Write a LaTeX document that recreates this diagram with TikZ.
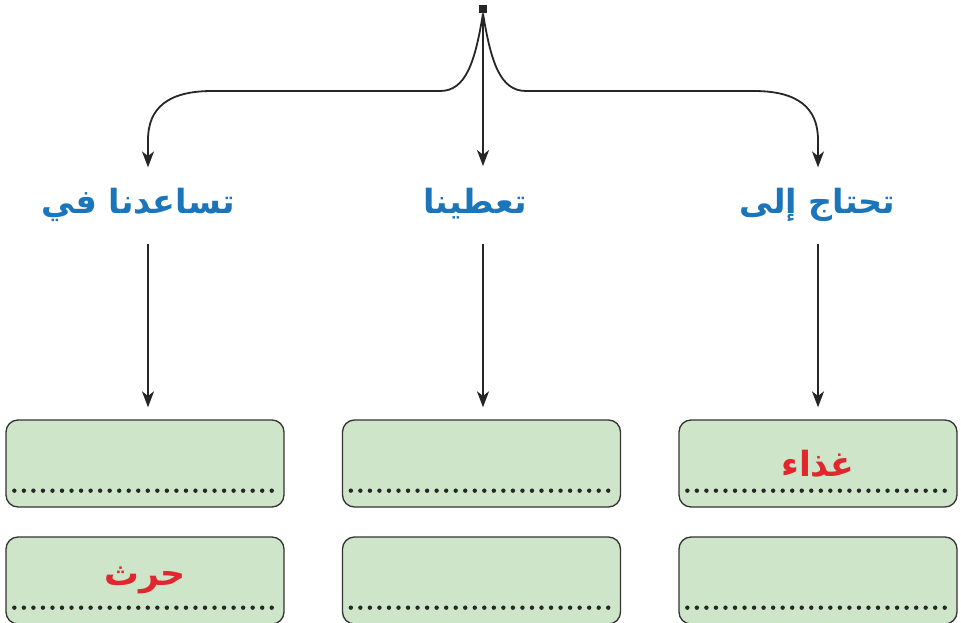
\documentclass[tikz,border=0pt]{standalone}
\usepackage{fontspec}
\usepackage{xcolor}
\usepackage{tikz}
\usetikzlibrary{arrows.meta,calc}
\TeXXeTstate=1
\newfontfamily\arabicfont[Script=Arabic]{DejaVu Sans}
\definecolor{cardgreen}{HTML}{CFE5C9}
\definecolor{cardline}{HTML}{333333}
\definecolor{titleblue}{HTML}{1B75BB}
\definecolor{answerred}{HTML}{E1262D}

\begin{document}
\begin{tikzpicture}[x=0.75pt,y=-0.75pt,
    link/.style={line width=1.35pt, draw=black!85, -{Stealth[length=12pt,width=9pt,inset=3.5pt]}},
    title/.style={font=\arabicfont\bfseries\fontsize{25}{30}\selectfont, text=titleblue,
        inner sep=0pt, text height=14pt, text depth=6pt, anchor=base},
    card/.style={draw=cardline, fill=cardgreen, line width=1pt, rounded corners=9pt,
        minimum width=208.5pt, minimum height=65.25pt, inner sep=0pt,
        font=\arabicfont\bfseries\fontsize{26}{30}\selectfont, text=answerred},
    dotrow/.style={line width=3.3pt, line cap=round, draw=black!85, dash pattern=on 0pt off 7.15pt}]
    \useasboundingbox (0,0) rectangle (961,622);

    % Root
    \node[fill=black!85, minimum size=6.5pt, inner sep=0pt] (root) at (483,9) {};

    % Headings
    \node[title] (help) at (138,213) {\beginR تساعدنا في\endR};
    \node[title] (give) at (475,213) {\beginR تعطينا\endR};
    \node[title] (need) at (817.5,213) {\beginR تحتاج إلى\endR};

    % Cards
    \node[card] (help1) at (145,463.5) {};
    \node[card] (help2) at (145,580.5) {\beginR حرث\endR};
    \node[card] (give1) at (481.5,463.5) {};
    \node[card] (give2) at (481.5,580.5) {};
    \node[card] (need1) at (818,463.5) {\beginR غذاء\endR};
    \node[card] (need2) at (818,580.5) {};

    % Dotted writing lines
    \foreach \c in {help1,help2,give1,give2,need1,need2}
        \draw[dotrow] ($(\c.south west)+(9,-17)$) -- ($(\c.south east)+(-9,-17)$);

    % Branches from the root
    \draw[link] (root.south) .. controls (475,62) and (466,91) .. (440,91) -- (212,91)
        .. controls (168,91) and (148,108) .. (148,140) -- (help.north -| 148,0) [shorten >=20pt];
    \draw[link, shorten >=21pt] (root.south) -- (give.north -| root.south);
    \draw[link] (root.south) .. controls (491,62) and (500,91) .. (526,91) -- (754,91)
        .. controls (798,91) and (818,108) .. (818,140) -- (need.north -| need1.north) [shorten >=20pt];

    % Down to the cards
    \draw[link, shorten <=17pt, shorten >=9pt] (help.south -| 148,0) -- (help1.north -| 148,0);
    \draw[link, shorten <=17pt, shorten >=9pt] (give.south -| root.south) -- (give1.north -| root.south);
    \draw[link, shorten <=17pt, shorten >=9pt] (need.south -| need1.north) -- (need1.north);
\end{tikzpicture}
\end{document}
